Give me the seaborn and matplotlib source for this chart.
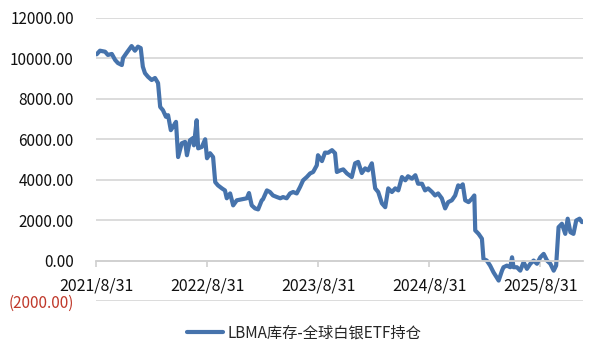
import matplotlib
matplotlib.use("Agg")
import matplotlib.pyplot as plt
from matplotlib.ticker import FixedLocator, FuncFormatter
from matplotlib.lines import Line2D
import seaborn as sns
import pandas as pd

dates = [
    "2021-09-02", "2021-09-13", "2021-09-30", "2021-10-09", "2021-10-22", "2021-11-02", "2021-11-11",
    "2021-11-24", "2021-11-28", "2021-12-10", "2021-12-26", "2022-01-06", "2022-01-16", "2022-01-25",
    "2022-02-01", "2022-02-08", "2022-02-18", "2022-03-02", "2022-03-13", "2022-03-23", "2022-03-30",
    "2022-04-08", "2022-04-18", "2022-04-25", "2022-05-04", "2022-05-11", "2022-05-21", "2022-05-28",
    "2022-06-09", "2022-06-20", "2022-06-26", "2022-07-06", "2022-07-15", "2022-07-19", "2022-07-28",
    "2022-08-02", "2022-08-14", "2022-08-25", "2022-08-31", "2022-09-10", "2022-09-20", "2022-09-27",
    "2022-10-06", "2022-10-19", "2022-10-29", "2022-11-04", "2022-11-15", "2022-11-25", "2022-12-07",
    "2022-12-23", "2023-01-09", "2023-01-16", "2023-01-25", "2023-02-05", "2023-02-15", "2023-02-27",
    "2023-03-03", "2023-03-16", "2023-03-26", "2023-04-05", "2023-04-18", "2023-04-29", "2023-05-08",
    "2023-05-20", "2023-05-31", "2023-06-10", "2023-06-22", "2023-07-03", "2023-07-13", "2023-07-25",
    "2023-08-05", "2023-08-15", "2023-08-27", "2023-08-31", "2023-09-13", "2023-09-23", "2023-10-03",
    "2023-10-16", "2023-10-26", "2023-11-01", "2023-11-12", "2023-11-22", "2023-12-04", "2023-12-20",
    "2023-12-31", "2024-01-10", "2024-01-22", "2024-02-02", "2024-02-12", "2024-02-24", "2024-03-06",
    "2024-03-16", "2024-03-28", "2024-04-08", "2024-04-18", "2024-04-30", "2024-05-11", "2024-05-21",
    "2024-06-02", "2024-06-13", "2024-06-22", "2024-07-05", "2024-07-16", "2024-07-25", "2024-08-07",
    "2024-08-17", "2024-08-27", "2024-09-09", "2024-09-19", "2024-09-29", "2024-10-11", "2024-10-22",
    "2024-11-01", "2024-11-13", "2024-11-24", "2024-12-04", "2024-12-11", "2024-12-19", "2024-12-27",
    "2025-01-07", "2025-01-18", "2025-01-26", "2025-01-29", "2025-02-09", "2025-02-20", "2025-02-25",
    "2025-03-08", "2025-03-19", "2025-03-30", "2025-04-16", "2025-04-27", "2025-05-02", "2025-05-13",
    "2025-05-24", "2025-05-30", "2025-06-04", "2025-06-15", "2025-06-26", "2025-07-07", "2025-07-18",
    "2025-07-29", "2025-08-09", "2025-08-20", "2025-08-31", "2025-09-11", "2025-09-22", "2025-10-03",
    "2025-10-14", "2025-10-22", "2025-10-30", "2025-11-10", "2025-11-21", "2025-11-29", "2025-12-08",
    "2025-12-18", "2025-12-27", "2026-01-07", "2026-01-15",
]
values = [
    10200, 10380, 10330, 10170, 10220, 9920, 9770,
    9670, 10020, 10280, 10610, 10380, 10580, 10510,
    9590, 9270, 9090, 8930, 9030, 8780, 7600,
    7440, 7110, 7190, 6450, 6610, 6860, 5120,
    5800, 5870, 5210, 5950, 6050, 5700, 6940,
    5550, 5620, 6000, 5060, 5310, 5120, 3880,
    3720, 3570, 3470, 3080, 3320, 2730, 2980,
    3030, 3080, 3340, 2730, 2580, 2530, 2980,
    3030, 3470, 3390, 3220, 3140, 3080, 3140,
    3080, 3320, 3390, 3320, 3640, 3970, 4130,
    4310, 4380, 4710, 5210, 4920, 5340, 5330,
    5460, 5310, 4380, 4460, 4510, 4310, 4130,
    4810, 4880, 4330, 4560, 4460, 4810, 3570,
    3390, 2830, 2640, 3570, 3390, 3570, 3470,
    4130, 3970, 4170, 4050, 4220, 3800, 3800,
    3470, 3570, 3390, 3220, 3320, 3080, 2580,
    2890, 2980, 3220, 3720, 3640, 3770, 2980,
    2890, 3060, 3220, 1490, 1320, 1080, 80,
    0, -250, -580, -990, -500, -330, -250,
    -330, 160, -330, -330, -500, -80, -410,
    -160, 0, -160, 160, 330, 0, -160,
    -500, -250, 1650, 1820, 1320, 2070, 1400,
    1320, 1980, 2070, 1900,
]
series_name = "LBMA库存-全球白银ETF持仓"
x_tick_labels = ["2021/8/31", "2022/8/31", "2023/8/31", "2024/8/31", "2025/8/31"]
y_ticks = [-2000, 0, 2000, 4000, 6000, 8000, 10000, 12000]

df = pd.DataFrame({"date": pd.to_datetime(dates), "value": values, "series": series_name})

sns.set_theme(style="white")
plt.rcParams["font.family"] = ["Noto Sans CJK SC", "DejaVu Sans"]

fig = plt.figure(figsize=(6.0, 3.59), dpi=100)
ax = fig.add_axes([0.16, 0.1616, 0.812, 0.7884])

line_color = "#4673ac"
sns.lineplot(data=df, x="date", y="value", hue="series", palette=[line_color],
             linewidth=3.0, ax=ax, legend=False)

ax.set_xlim(pd.Timestamp("2021-08-31"), pd.Timestamp("2026-01-19"))
ax.set_ylim(-2000, 12000)

ax.yaxis.set_major_locator(FixedLocator(y_ticks))
ax.grid(axis="y", color="#d9d9d9", linewidth=1.3)
ax.grid(axis="x", visible=False)

for s in ["left", "right", "top"]:
    ax.spines[s].set_visible(False)
ax.spines["bottom"].set_position(("data", 0))
ax.spines["bottom"].set_color("#d0d0d0")
ax.spines["bottom"].set_linewidth(1.3)

xt = pd.to_datetime([s.replace("/", "-") for s in x_tick_labels])
ax.set_xticks(xt)
ax.set_xticklabels(x_tick_labels)
ax.tick_params(axis="x", direction="out", length=4, width=1.2, color="#d0d0d0",
               pad=8, labelsize=11.5, labelcolor="#111111", bottom=True)

def yfmt(v, pos):
    if v < 0:
        return f"({abs(v):.2f})"
    return f"{v:.2f}"

ax.yaxis.set_major_formatter(FuncFormatter(yfmt))
ax.tick_params(axis="y", length=0, pad=16, labelsize=11, labelcolor="#111111")
for lab, v in zip(ax.get_yticklabels(), y_ticks):
    if v < 0:
        lab.set_color("#c0392b")

ax.set_xlabel("")
ax.set_ylabel("")

handle = Line2D([], [], color=line_color, linewidth=3.0)
fig.legend([handle], [series_name], loc="center", bbox_to_anchor=(0.507, 0.072),
           frameon=False, fontsize=11, handlelength=2.4, handletextpad=0.3)

fig.savefig("out.png", dpi=100)
